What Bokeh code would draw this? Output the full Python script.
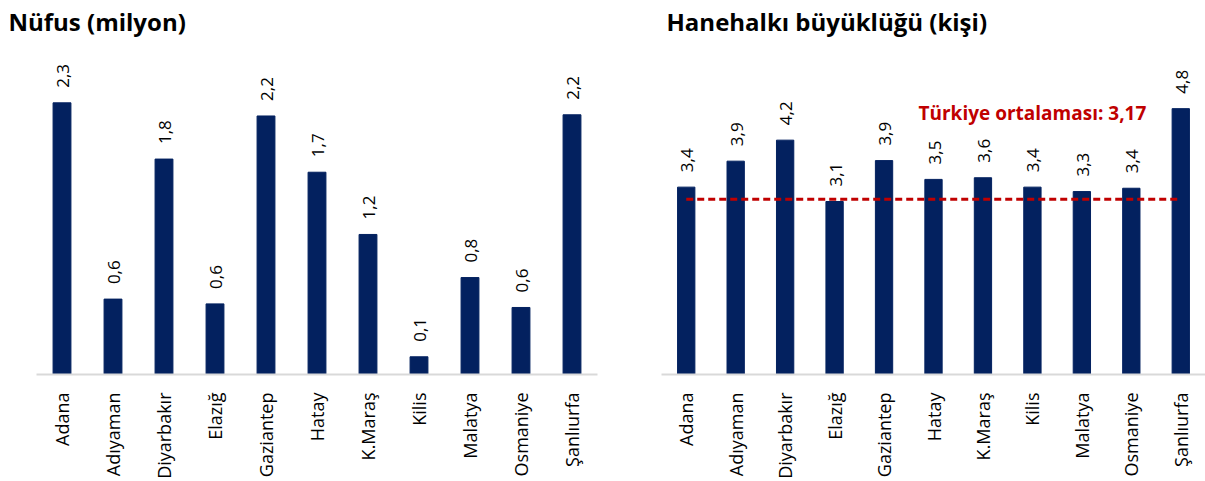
import math
from bokeh.plotting import figure
from bokeh.layouts import row
from bokeh.models import ColumnDataSource, FactorRange, Range1d
from bokeh.core.properties import value
from bokeh.embed import file_html
from bokeh.resources import INLINE

# ---- data ----
iller = ["Adana", "Adıyaman", "Diyarbakır", "Elazığ", "Gaziantep", "Hatay",
         "K.Maraş", "Kilis", "Malatya", "Osmaniye", "Şanlıurfa"]
nufus = [2.27, 0.63, 1.80, 0.59, 2.16, 1.69, 1.17, 0.148, 0.81, 0.56, 2.17]
hanehalki = [3.39, 3.86, 4.24, 3.13, 3.87, 3.53, 3.56, 3.39, 3.31, 3.37, 4.81]
turkiye_ort = 3.17
titles = ["Nüfus (milyon)", "Hanehalkı büyüklüğü (kişi)"]
ort_label = "Türkiye ortalaması: 3,17"

BAR = "#03215f"
RED = "#c00000"
FONT = "Open Sans"
TOP = 38        # frame top (px)
BASE = 375      # frame bottom (px)


def fmt(v):
    return f"{v:.1f}".replace(".", ",")


def make(vals, title, ymax, width, mbl, mbr, toff):
    src = ColumnDataSource(dict(x=iller, y=vals, lbl=[fmt(v) for v in vals]))
    p = figure(x_range=FactorRange(factors=iller, range_padding=0),
               y_range=Range1d(0, ymax), width=width, height=481,
               output_backend="svg", toolbar_location=None,
               y_axis_location=None,
               min_border_left=mbl, min_border_right=mbr,
               min_border_top=TOP, min_border_bottom=481 - BASE)
    p.vbar(x="x", top="y", width=0.35, source=src, color=BAR)
    p.text(x="x", y="y", text="lbl", source=src, angle=math.pi / 2,
           text_align="left", text_baseline="middle", y_offset=-15, x_offset=1,
           text_font=value(FONT), text_font_size="17px", text_color="#000000")
    p.xgrid.grid_line_color = None
    p.ygrid.grid_line_color = None
    p.outline_line_color = None
    ax = p.xaxis[0]
    ax.major_label_orientation = math.pi / 2
    ax.major_tick_line_color = None
    ax.minor_tick_line_color = None
    ax.axis_line_color = "#d9d9d9"
    ax.axis_line_width = 2
    ax.major_label_standoff = 12
    ax.major_label_text_font = FONT
    ax.major_label_text_font_size = "18px"
    ax.major_label_text_color = "#000000"
    p.title.text = title
    p.title.align = "left"
    p.title.offset = toff
    p.title.standoff = 4
    p.title.text_font = FONT
    p.title.text_font_size = "24px"
    p.title.text_font_style = "bold"
    p.title.text_color = "#000000"
    return p


p1 = make(nufus, titles[0], (BASE - TOP) / 120.4, 640, 36, 43, -28)
p2 = make(hanehalki, titles[1], (BASE - TOP) / 55.6, 565, 21, 0, 5)

p2.line(x=[iller[0], iller[-1]], y=[turkiye_ort, turkiye_ort],
        line_color=RED, line_width=3, line_dash="7 4")
p2.text(x=[iller[5]], y=[turkiye_ort], text=[ort_label], x_offset=-15,
        y_offset=-86, text_align="left", text_baseline="middle",
        text_font=value(FONT), text_font_size="19px",
        text_font_style="bold", text_color=RED)

layout = row(p1, p2)
open("out.html", "w").write(file_html(layout, INLINE))
